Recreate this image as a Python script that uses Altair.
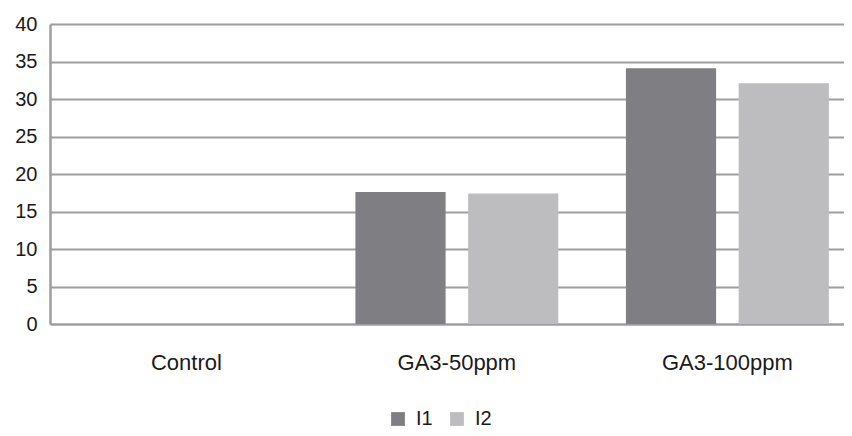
import altair as alt
import pandas as pd

categories = ["Control", "GA3-50ppm", "GA3-100ppm"]
series = ["I1", "I2"]
i1_values = [0, 17.6, 34.1]
i2_values = [0, 17.4, 32.1]
y_ticks = [0, 5, 10, 15, 20, 25, 30, 35, 40]
colors = ["#7f7f83", "#bdbdc0"]

rows = []
for c, a, b in zip(categories, i1_values, i2_values):
    rows.append({"cat": c, "series": series[0], "value": a})
    rows.append({"cat": c, "series": series[1], "value": b})
df = pd.DataFrame(rows)

FONT = "Liberation Sans"
GRID = "#9e9ea0"

chart = alt.Chart(df).mark_bar().encode(
    x=alt.X(
        "cat:N",
        sort=categories,
        scale=alt.Scale(paddingInner=0.25, paddingOuter=0.0926, align=0.697),
        axis=alt.Axis(
            title=None, labelAngle=0, ticks=False, domain=True,
            domainColor=GRID, domainWidth=2, labelPadding=28,
            labelFontSize=22, labelFont=FONT, labelColor="#1a1a1a", grid=False,
        ),
    ),
    xOffset=alt.XOffset("series:N", sort=series,
                        scale=alt.Scale(paddingInner=0.2, paddingOuter=0)),
    y=alt.Y(
        "value:Q",
        scale=alt.Scale(domain=[0, 40], nice=False),
        axis=alt.Axis(
            values=y_ticks, title=None, ticks=False, domain=True,
            domainColor=GRID, domainWidth=2.5, labelPadding=13,
            labelFontSize=20, labelFont=FONT, labelColor="#1a1a1a",
            grid=True, gridColor=GRID, gridWidth=2.2, labelBaseline="middle",
        ),
    ),
    color=alt.Color(
        "series:N",
        scale=alt.Scale(domain=series, range=colors),
        legend=alt.Legend(
            orient="none", legendX=338, legendY=385, direction="horizontal",
            title=None, symbolType="square", symbolSize=190,
            symbolStrokeWidth=0, labelFontSize=20, labelFont=FONT,
            labelColor="#1a1a1a", labelOffset=8, columnPadding=14, padding=0,
        ),
    ),
).properties(
    width=794,
    height=300,
    padding={"left": 42, "top": 16, "right": 0, "bottom": 104},
    autosize=alt.AutoSizeParams(type="none"),
).configure_view(stroke=None)

chart.save("out.html", embed_options={"renderer": "svg", "actions": False})
